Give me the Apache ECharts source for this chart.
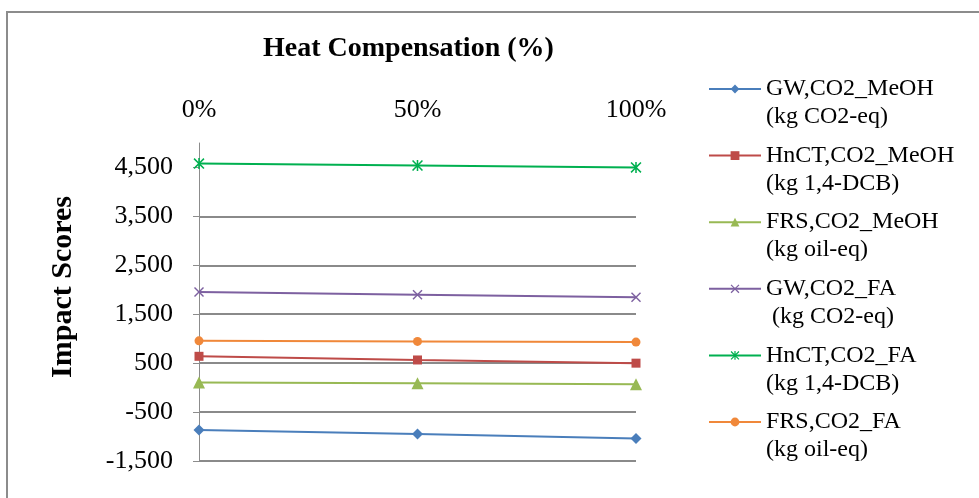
<!DOCTYPE html>
<html>
<head>
<meta charset="utf-8">
<script src="https://cdn.jsdelivr.net/npm/echarts@6/dist/echarts.min.js"></script>
<style>html,body{margin:0;padding:0;background:#fff;}#c{width:979px;height:498px;}</style>
</head>
<body>
<div id="c"></div>
<script>
var categories = ['0%', '50%', '100%'];
var yTicks = [-1500, -500, 500, 1500, 2500, 3500, 4500];
var seriesNames = ['GW,CO2_MeOH', 'HnCT,CO2_MeOH', 'FRS,CO2_MeOH', 'GW,CO2_FA', 'HnCT,CO2_FA', 'FRS,CO2_FA'];
var seriesUnits = ['(kg CO2-eq)', '(kg 1,4-DCB)', '(kg oil-eq)', ' (kg CO2-eq)', '(kg 1,4-DCB)', '(kg oil-eq)'];
var gwMeOH = [-865, -950, -1040];
var hnctMeOH = [640, 565, 500];
var frsMeOH = [105, 90, 70];
var gwFA = [1955, 1900, 1845];
var hnctFA = [4580, 4540, 4500];
var frsFA = [956, 944, 930];

var seriesData = [gwMeOH, hnctMeOH, frsMeOH, gwFA, hnctFA, frsFA];
var colors = ['#4A7EBB', '#BE4B48', '#98B954', '#7D60A0', '#00B050', '#F0883A'];
var xPath = 'path://M1,0 L5,4 L9,0 L10,1 L6,5 L10,9 L9,10 L5,6 L1,10 L0,9 L4,5 L0,1 Z';
var starPath = 'path://M1,0 L5,4 L9,0 L10,1 L6,5 L10,9 L9,10 L5,6 L1,10 L0,9 L4,5 L0,1 Z M4.3,0 L5.7,0 L5.7,10 L4.3,10 Z';
var symbols = ['diamond', 'rect', 'triangle', xPath, starPath, 'circle'];
var sizes = [11, 9, 12, 10, 11, 9];
var serif = '"Liberation Serif", "DejaVu Serif", serif';

var fullNames = seriesNames.map(function (n, i) { return '\n' + n + '\n' + seriesUnits[i]; });

var chart = echarts.init(document.getElementById('c'), null, {renderer: 'canvas'});
chart.setOption({
  backgroundColor: '#fff',
  animation: false,
  color: colors,
  title: {
    text: 'Heat Compensation (%)',
    left: 258,
    top: 30,
    textStyle: {fontFamily: serif, fontSize: 28, fontWeight: 'bold', color: '#000'}
  },
  graphic: [{
    type: 'rect',
    shape: {x: 7, y: 12, width: 990, height: 500},
    style: {fill: 'none', stroke: '#8c8c8c', lineWidth: 2},
    silent: true
  }],
  legend: {
    orient: 'vertical',
    left: 703,
    top: 42,
    itemWidth: 52,
    itemHeight: 11,
    itemGap: -17.4,
    data: fullNames,
    textStyle: {fontFamily: serif, fontSize: 24, color: '#000', lineHeight: 28}
  },
  grid: {left: 199, right: 343, top: 143, bottom: 37, containLabel: false},
  xAxis: {
    type: 'category',
    position: 'top',
    data: categories,
    boundaryGap: false,
    axisLine: {show: false},
    axisTick: {show: false},
    axisLabel: {margin: 20, fontFamily: serif, fontSize: 26, color: '#000'},
    splitLine: {show: false}
  },
  yAxis: {
    type: 'value',
    min: -1500,
    max: 5000,
    interval: 1000,
    name: 'Impact Scores',
    nameLocation: 'middle',
    nameGap: 121,
    nameTextStyle: {fontFamily: serif, fontSize: 30, fontWeight: 'bold', color: '#000', padding: [0, 0, 0, 30]},
    axisLine: {show: true, lineStyle: {color: '#8c8c8c', width: 1}},
    axisTick: {show: true, length: 6, lineStyle: {color: '#8c8c8c', width: 1}, customValues: yTicks},
    axisLabel: {
      margin: 26, fontFamily: serif, fontSize: 26, color: '#000',
      customValues: yTicks,
      formatter: function (v) { return v.toLocaleString('en-US'); }
    },
    splitLine: {show: true, showMaxLine: false, lineStyle: {color: '#8a8a8a', width: 2}}
  },
  series: seriesData.map(function (d, i) {
    return {
      name: fullNames[i],
      type: 'line',
      data: d,
      symbol: symbols[i],
      symbolSize: sizes[i],
      lineStyle: {width: 2, color: colors[i]},
      itemStyle: {color: colors[i]},
      z: 3
    };
  })
});
</script>
</body>
</html>
